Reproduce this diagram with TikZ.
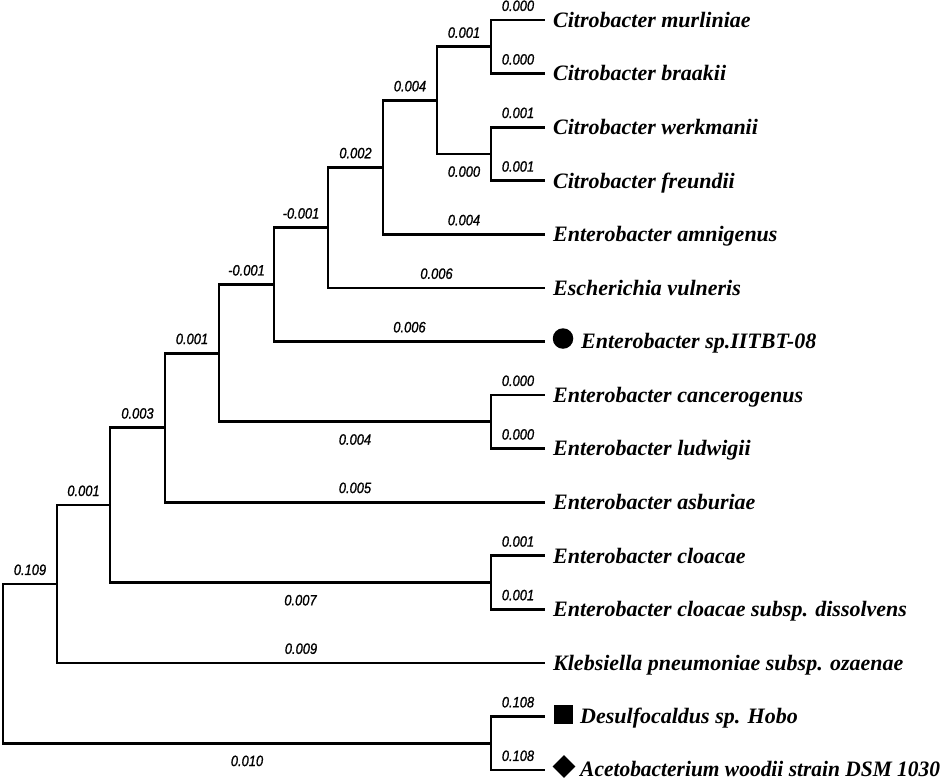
\documentclass[tikz,border=0pt]{standalone}
\usepackage{fontspec}
\setmainfont{Liberation Serif}
\newfontfamily\labfont[FakeStretch=0.86,FakeBold=1]{Liberation Sans}
\usetikzlibrary{shapes.geometric}
\begin{document}
\begin{tikzpicture}[x=1pt,y=-1pt,
  br/.style={line width=2.8pt, line join=miter},
  lab/.style={font=\labfont\itshape\fontsize{15}{17}\selectfont, inner sep=0pt, pos=0.75},
  up/.style={lab, above=7.5pt},
  dn/.style={lab, below=11pt},
  leaf/.style={font=\bfseries\itshape\fontsize{22}{26}\selectfont, inner sep=0pt, anchor=base west},
  sym/.style={fill=black, draw=none, inner sep=0pt}]
\useasboundingbox (0,0) rectangle (949,780);
% internal nodes
\coordinate (root) at (3,663.6);
\coordinate (A) at (57,584);
\coordinate (B) at (110,505.05);
\coordinate (C) at (165,427.6);
\coordinate (D) at (219,353.15);
\coordinate (E) at (274,284.5);
\coordinate (F) at (328,227.6);
\coordinate (G) at (383,167.3);
\coordinate (H) at (437,100.35);
\coordinate (I) at (491,46.8);
\coordinate (J) at (491,153.9);
\coordinate (Ca) at (491,421.8);
\coordinate (Cl) at (491,582.5);
\coordinate (K) at (491,743.2);
% leaf ends
\coordinate (t0) at (545,20);
\coordinate (t1) at (545,73.6);
\coordinate (t2) at (545,127.1);
\coordinate (t3) at (545,180.7);
\coordinate (t4) at (545,234.3);
\coordinate (t5) at (545,287.9);
\coordinate (t6) at (545,341.4);
\coordinate (t7) at (545,395);
\coordinate (t8) at (545,448.6);
\coordinate (t9) at (545,502.1);
\coordinate (t10) at (545,555.7);
\coordinate (t11) at (545,609.3);
\coordinate (t12) at (545,662.9);
\coordinate (t13) at (545,716.4);
\coordinate (t14) at (545,770);
% branches
\draw[br] (root) |- node[up] (e1) {0.109} (A);
\draw[br] (root) |- node[dn] (e2) {0.010} (K);
\draw[br] (A) |- node[up] (e3) {0.009} (t12);
\draw[br] (A) |- node[up] (e4) {0.001} (B);
\draw[br] (B) |- node[up] (e5) {0.003} (C);
\draw[br] (B) |- node[dn] (e6) {0.007} (Cl);
\draw[br] (C) |- node[up] (e7) {0.001} (D);
\draw[br] (C) |- node[up] (e8) {0.005} (t9);
\draw[br] (D) |- node[up] (e9) {-0.001} (E);
\draw[br] (D) |- node[dn] (e10) {0.004} (Ca);
\draw[br] (E) |- node[up] (e11) {-0.001} (F);
\draw[br] (E) |- node[up] (e12) {0.006} (t6);
\draw[br] (F) |- node[up] (e13) {0.002} (G);
\draw[br] (F) |- node[up] (e14) {0.006} (t5);
\draw[br] (G) |- node[up] (e15) {0.004} (H);
\draw[br] (G) |- node[up] (e16) {0.004} (t4);
\draw[br] (H) |- node[up] (e17) {0.001} (I);
\draw[br] (H) |- node[dn] (e18) {0.000} (J);
\draw[br] (I) |- node[up] (e19) {0.000} (t0);
\draw[br] (I) |- node[up] (e20) {0.000} (t1);
\draw[br] (J) |- node[up] (e21) {0.001} (t2);
\draw[br] (J) |- node[up] (e22) {0.001} (t3);
\draw[br] (Ca) |- node[up] (e23) {0.000} (t7);
\draw[br] (Ca) |- node[up] (e24) {0.000} (t8);
\draw[br] (Cl) |- node[up] (e25) {0.001} (t10);
\draw[br] (Cl) |- node[up] (e26) {0.001} (t11);
\draw[br] (K) |- node[up] (e27) {0.108} (t13);
\draw[br] (K) |- node[up] (e28) {0.108} (t14);
% symbols
\node[sym, circle, minimum size=20.5pt] (s6) at (563,338.5) {};
\node[sym, rectangle, minimum size=19pt] (s13) at (563.5,714.5) {};
\node[sym, diamond, minimum size=23pt] (s14) at (564,766.5) {};
% leaf labels
\node[leaf] (n0) at (553,27.3) {Citrobacter murliniae};
\node[leaf] (n1) at (553,80.9) {Citrobacter braakii};
\node[leaf] (n2) at (553,134.4) {Citrobacter werkmanii};
\node[leaf] (n3) at (553,188) {Citrobacter freundii};
\node[leaf] (n4) at (553,241.6) {Enterobacter amnigenus};
\node[leaf] (n5) at (553,295.2) {Escherichia vulneris};
\node[leaf] (n6) at (581,348.7) {Enterobacter sp.IITBT-08};
\node[leaf] (n7) at (553,402.3) {Enterobacter cancerogenus};
\node[leaf] (n8) at (553,455.9) {Enterobacter ludwigii};
\node[leaf] (n9) at (553,509.4) {Enterobacter asburiae};
\node[leaf] (n10) at (553,563) {Enterobacter cloacae};
\node[leaf] (n11) at (553,616.6) {Enterobacter cloacae subsp. dissolvens};
\node[leaf] (n12) at (553,670.2) {Klebsiella pneumoniae subsp. ozaenae};
\node[leaf] (n13) at (580,723.7) {Desulfocaldus sp. Hobo};
\node[leaf] (n14) at (580,776) {\scalebox{0.975}[1]{Acetobacterium woodii strain DSM 1030}};
\end{tikzpicture}
\end{document}
